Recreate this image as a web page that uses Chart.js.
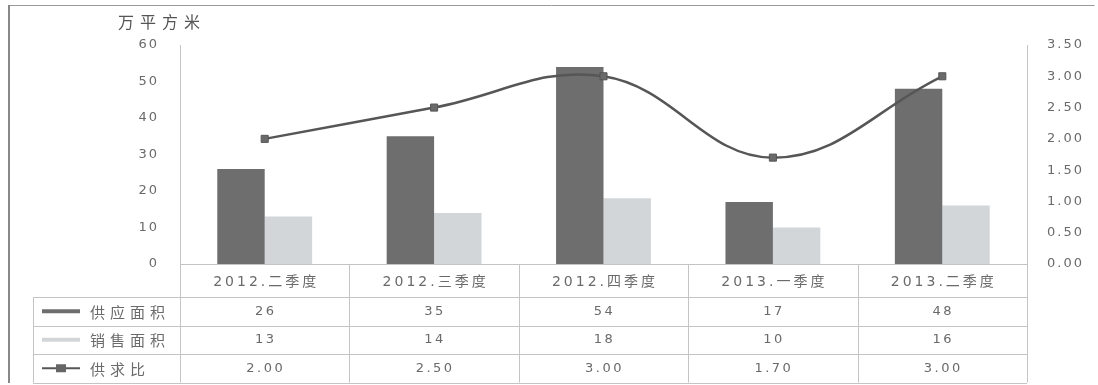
<!DOCTYPE html>
<html>
<head>
<meta charset="utf-8">
<script src="https://cdn.jsdelivr.net/npm/chart.js@4.4.1/dist/chart.umd.min.js"></script>
<style>
  html, body { margin: 0; padding: 0; background: #fff; }
  canvas { display: block; }
</style>
</head>
<body>
<canvas id="supplyChart" width="1098" height="385"></canvas>
<script>
// data
const quarters = ['2012.二季度', '2012.三季度', '2012.四季度', '2013.一季度', '2013.二季度'];
const supplyArea = [26, 35, 54, 17, 48];
const salesArea = [13, 14, 18, 10, 16];
const supplyRatio = [2.00, 2.50, 3.00, 1.70, 3.00];
const seriesNames = ['供应面积', '销售面积', '供求比'];
const leftTicks = [0, 10, 20, 30, 40, 50, 60];
const rightTicks = [0, 0.5, 1, 1.5, 2, 2.5, 3, 3.5];
const unitLabel = '万平方米';

const darkBar = '#6e6e6e';
const lightBar = '#d3d6d9';
const lineCol = '#565656';
const textCol = '#6a6a6a';
const gridCol = '#c4c4c4';
const numFont = '"DejaVu Sans", "Noto Sans CJK SC", sans-serif';
const cjkFont = '"Noto Sans CJK SC", sans-serif';

// wide spaced lettering like the scanned original
const spacing = {
  id: 'spacing',
  beforeDraw(chart) { chart.ctx.letterSpacing = '2px'; }
};

// table under the plot, built from the same arrays
const dataTable = {
  id: 'dataTable',
  afterDraw(chart) {
    const ctx = chart.ctx;
    const xs = chart.scales.x;
    const area = chart.chartArea;
    const n = quarters.length;
    const slot = (xs.right - xs.left) / n;
    const rowH = 28.5;
    const top = area.bottom + 33;
    const rows = [supplyArea, salesArea, supplyRatio.map(v => v.toFixed(2))];
    const legendLeft = 33;

    ctx.save();
    // frame
    ctx.strokeStyle = '#9a9a9a';
    ctx.lineWidth = 1;
    ctx.beginPath();
    ctx.moveTo(1094.5, 5.5); ctx.lineTo(8.5, 5.5); ctx.lineTo(8.5, 382.5);
    ctx.stroke();
    ctx.strokeStyle = '#888';
    ctx.lineWidth = 2;
    ctx.beginPath(); ctx.moveTo(9, 5); ctx.lineTo(9, 383); ctx.stroke();

    // grid of the table
    ctx.strokeStyle = gridCol;
    ctx.lineWidth = 1;
    ctx.beginPath();
    for (let r = 0; r <= rows.length; r++) {
      const y = Math.round(top + r * rowH) + 0.5;
      ctx.moveTo(legendLeft, y); ctx.lineTo(xs.right, y);
    }
    for (let i = 0; i <= n; i++) {
      const x = Math.round(xs.left + i * slot) + 0.5;
      ctx.moveTo(x, area.bottom); ctx.lineTo(x, top + rows.length * rowH);
    }
    ctx.moveTo(legendLeft + 0.5, top); ctx.lineTo(legendLeft + 0.5, top + rows.length * rowH);
    ctx.stroke();

    ctx.fillStyle = textCol;
    ctx.textAlign = 'center';
    ctx.textBaseline = 'middle';

    // category header
    ctx.letterSpacing = '3px';
    ctx.font = '14px ' + numFont;
    quarters.forEach((q, i) => {
      ctx.fillText(q, xs.getPixelForValue(i) + 1.5, area.bottom + 18);
    });

    // values
    ctx.letterSpacing = '2.5px';
    ctx.font = '13px ' + numFont;
    rows.forEach((vals, r) => {
      const y = top + r * rowH + rowH / 2;
      vals.forEach((v, i) => {
        ctx.fillText(String(v), xs.getPixelForValue(i) + 1, y);
      });
    });

    // legend keys and names
    ctx.textAlign = 'left';
    ctx.letterSpacing = '5px';
    ctx.font = '15px ' + cjkFont;
    seriesNames.forEach((name, r) => {
      const y = top + r * rowH + rowH / 2;
      if (r < 2) {
        ctx.strokeStyle = r === 0 ? darkBar : lightBar;
        ctx.lineWidth = 4;
        ctx.beginPath(); ctx.moveTo(42, y); ctx.lineTo(80, y); ctx.stroke();
      } else {
        ctx.strokeStyle = lineCol;
        ctx.lineWidth = 2;
        ctx.beginPath(); ctx.moveTo(42, y); ctx.lineTo(80, y); ctx.stroke();
        ctx.fillStyle = '#666';
        ctx.fillRect(56, y - 4, 10, 8);
      }
      ctx.fillStyle = textCol;
      ctx.fillText(name, 90, y + 1);
    });

    // unit label above the left axis
    ctx.textAlign = 'left';
    ctx.letterSpacing = '6px';
    ctx.font = '16px ' + cjkFont;
    ctx.fillStyle = '#555';
    ctx.fillText(unitLabel, 118, 22);
    ctx.restore();
  }
};

const ctx = document.getElementById('supplyChart').getContext('2d');
const supplyChart = new Chart(ctx, {
  type: 'bar',
  data: {
    labels: quarters,
    datasets: [
      {
        type: 'line',
        label: seriesNames[2],
        data: supplyRatio,
        yAxisID: 'y2',
        borderColor: lineCol,
        borderWidth: 2.5,
        tension: 0.4,
        pointStyle: 'rect',
        pointRadius: 5,
        pointBackgroundColor: '#6a6a6a',
        pointBorderColor: '#555',
        pointBorderWidth: 1
      },
      {
        label: seriesNames[0],
        data: supplyArea,
        yAxisID: 'y',
        backgroundColor: darkBar,
        categoryPercentage: 0.56,
        barPercentage: 1
      },
      {
        label: seriesNames[1],
        data: salesArea,
        yAxisID: 'y',
        backgroundColor: lightBar,
        categoryPercentage: 0.56,
        barPercentage: 1
      }
    ]
  },
  options: {
    responsive: false,
    animation: false,
    layout: { padding: { top: 45, left: 0, right: 0, bottom: 0 } },
    plugins: { legend: { display: false }, tooltip: { enabled: false } },
    scales: {
      x: {
        grid: { display: false, drawTicks: false },
        border: { display: true, color: gridCol },
        ticks: { display: false },
        afterFit(scale) { scale.height = 121; }
      },
      y: {
        position: 'left',
        min: 0, max: 60,
        afterBuildTicks(scale) { scale.ticks = leftTicks.map(v => ({ value: v })); },
        grid: { display: false, drawTicks: false },
        border: { display: true, color: gridCol },
        ticks: { color: textCol, font: { family: numFont, size: 13 }, padding: 21 },
        afterFit(scale) { scale.width = 180; }
      },
      y2: {
        position: 'right',
        min: 0, max: 3.5,
        afterBuildTicks(scale) { scale.ticks = rightTicks.map(v => ({ value: v })); },
        grid: { display: false, drawTicks: false },
        border: { display: true, color: gridCol },
        ticks: {
          color: textCol, font: { family: numFont, size: 13 }, padding: 20,
          callback: v => Number(v).toFixed(2)
        },
        afterFit(scale) { scale.width = 71; }
      }
    }
  },
  plugins: [spacing, dataTable]
});
</script>
</body>
</html>
